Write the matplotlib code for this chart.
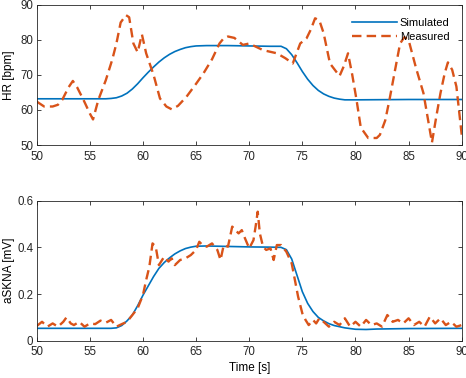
import matplotlib
matplotlib.use("Agg")
import matplotlib.pyplot as plt

plt.rcParams['font.family'] = ['Liberation Sans', 'DejaVu Sans']

# ---- HR data ----
hr_sim_t = [50, 56.5, 57, 57.5, 58, 58.5, 59, 59.5, 60, 60.5, 61, 61.5, 62, 62.5, 63, 63.5,
            64, 64.5, 65, 66, 68, 70, 72, 73, 73.5, 74, 74.5, 75, 75.5, 76, 76.5, 77,
            77.5, 78, 78.5, 79, 80, 85, 90]
hr_sim = [63.2, 63.2, 63.3, 63.5, 64.0, 64.8, 66.0, 67.5, 69.2, 70.8, 72.3, 73.7, 74.9, 75.9,
          76.7, 77.3, 77.8, 78.1, 78.3, 78.4, 78.4, 78.3, 78.2, 78.2, 77.5, 75.8, 73.5, 71.0,
          68.8, 67.0, 65.6, 64.6, 63.9, 63.4, 63.1, 62.9, 62.9, 63.0, 63.0]

hr_meas_t = [50, 50.7, 51.5, 52.0, 52.4, 53.0, 53.4, 53.8, 54.4, 55.0, 55.3, 55.8, 56.5, 57.1,
             57.5, 57.9, 58.4, 58.7, 59.1, 59.5, 59.9, 60.3, 61.0, 61.6, 62.2, 62.7, 63.3,
             64.1, 65.0, 65.7, 66.5, 67.2, 67.6, 68.0, 68.6, 69.4, 70.0, 71.3, 72.6, 73.4,
             74.1, 74.8, 75.4, 75.8, 76.2, 76.6, 77.0, 77.6, 78.5, 78.9, 79.3, 79.7, 80.1,
             80.5, 81.2, 82.0, 82.3, 82.8, 83.2, 83.7, 84.2, 84.6, 85.0, 85.7, 86.4, 86.9,
             87.2, 87.6, 88.0, 88.4, 88.7, 89.1, 89.5, 90.0]
hr_meas = [62.4, 61.0, 61.0, 61.5, 62.9, 66.5, 68.3, 66.5, 62.9, 59.0, 57.3, 62.9, 68.5, 74.3,
           79.0, 85.0, 87.1, 86.5, 79.0, 76.5, 81.6, 76.2, 70.0, 63.3, 61.0, 60.2, 61.2,
           63.8, 67.5, 70.5, 74.5, 79.0, 80.5, 81.0, 80.6, 78.6, 79.0, 77.1, 76.2, 74.8,
           73.3, 79.0, 80.5, 83.0, 86.2, 85.6, 82.0, 73.3, 69.7, 72.5, 76.2, 70.0, 62.9,
           55.0, 52.0, 52.0, 52.9, 57.0, 62.9, 71.0, 79.0, 80.8, 80.0, 72.0, 64.8, 56.0,
           50.7, 58.0, 64.8, 70.5, 73.6, 71.5, 66.7, 52.9]

# ---- aSKNA data ----
sk_sim_t = [50, 57, 57.5, 58, 58.5, 59, 59.5, 60, 60.5, 61, 61.5, 62, 62.5, 63, 63.5, 64,
            64.5, 65, 66, 68, 70, 72, 73, 73.5, 74, 74.5, 75, 75.5, 76, 76.5, 77, 77.5,
            78, 79, 80, 81, 82, 85, 90]
sk_sim = [0.053, 0.053, 0.055, 0.065, 0.085, 0.11, 0.15, 0.195, 0.235, 0.275, 0.31, 0.335,
          0.355, 0.372, 0.385, 0.395, 0.401, 0.405, 0.406, 0.404, 0.402, 0.401, 0.400,
          0.39, 0.35, 0.28, 0.21, 0.16, 0.125, 0.10, 0.085, 0.073, 0.065, 0.055, 0.049,
          0.048, 0.05, 0.052, 0.053]

sk_meas_t = [50, 50.5, 51, 51.5, 52, 52.5, 52.8, 53.2, 53.5, 54, 54.5, 55, 55.5, 56, 56.5,
             57, 57.5, 58, 58.5, 59, 59.5, 60, 60.3, 60.6, 60.9, 61.2, 61.5, 61.8, 62,
             62.4, 62.7, 63, 63.5, 64, 64.5, 65, 65.3, 65.6, 66, 66.5, 67, 67.3, 67.6, 68,
             68.4, 68.7, 69, 69.3, 69.6, 70, 70.4, 70.6, 70.8, 71, 71.3, 71.6, 72, 72.3,
             72.6, 73, 73.5, 74, 74.3, 74.6, 75, 75.3, 75.6, 76, 76.3, 76.6, 77, 77.5, 78,
             78.5, 79, 79.5, 80, 80.5, 81, 81.5, 82, 82.5, 83, 83.5, 84, 84.5, 85, 85.5,
             86, 86.5, 87, 87.5, 88, 88.5, 89, 89.5, 90]
sk_meas = [0.063, 0.081, 0.06, 0.074, 0.06, 0.081, 0.10, 0.074, 0.067, 0.081, 0.06, 0.074,
           0.071, 0.086, 0.077, 0.089, 0.06, 0.071, 0.081, 0.11, 0.139, 0.196, 0.26, 0.317,
           0.417, 0.403, 0.324, 0.346, 0.36, 0.339, 0.353, 0.324, 0.346, 0.353, 0.367,
           0.389, 0.424, 0.41, 0.403, 0.417, 0.389, 0.346, 0.41, 0.403, 0.489, 0.474, 0.46,
           0.474, 0.439, 0.396, 0.431, 0.489, 0.553, 0.46, 0.403, 0.389, 0.396, 0.346, 0.41,
           0.41, 0.381, 0.331, 0.26, 0.189, 0.117, 0.089, 0.067, 0.089, 0.074, 0.096, 0.081,
           0.06, 0.081, 0.067, 0.096, 0.06, 0.081, 0.06, 0.089, 0.067, 0.074, 0.06, 0.11,
           0.081, 0.089, 0.074, 0.096, 0.067, 0.081, 0.06, 0.103, 0.074, 0.096, 0.067,
           0.081, 0.06, 0.067]

xticks = [50, 55, 60, 65, 70, 75, 80, 85, 90]
hr_yticks = [50, 60, 70, 80, 90]
sk_yticks = [0, 0.2, 0.4, 0.6]

BLUE = '#0072BD'
ORANGE = '#D95319'
AXC = '#262626'

fig = plt.figure(figsize=(4.66, 3.78), dpi=100)
ax1 = fig.add_axes([0.0788, 0.6164, 0.912, 0.3704])
ax2 = fig.add_axes([0.0788, 0.0987, 0.912, 0.3703])

def style(ax):
    for s in ax.spines.values():
        s.set_linewidth(0.6)
        s.set_color(AXC)
    ax.tick_params(direction='in', which='both', top=True, right=True, length=3,
                   width=0.6, colors=AXC, labelsize=8.3, labelcolor='#262626')
    ax.tick_params(axis='x', pad=4)
    ax.tick_params(axis='y', pad=2.5)
    ax.set_xlim(50, 90)
    ax.set_xticks(xticks)

ax1.plot(hr_sim_t, hr_sim, color=BLUE, lw=1.2, label='Simulated')
ax1.plot(hr_meas_t, hr_meas, color=ORANGE, lw=1.7, ls=(0, (4, 2.2)), label='Measured')
style(ax1)
ax1.set_ylim(50, 90)
ax1.set_yticks(hr_yticks)
ax1.set_ylabel('HR [bpm]', fontsize=8.5)
ax1.yaxis.set_label_coords(-0.052, 0.5)
leg = ax1.legend(loc='upper right', frameon=False, fontsize=8, handlelength=4.0,
                 handletextpad=0.3, borderaxespad=0.3, labelspacing=0.3,
                 bbox_to_anchor=(0.99, 0.96))

ax2.plot(sk_sim_t, sk_sim, color=BLUE, lw=1.2)
ax2.plot(sk_meas_t, sk_meas, color=ORANGE, lw=1.7, ls=(0, (4, 2.2)))
style(ax2)
ax2.set_ylim(0, 0.6)
ax2.set_yticks(sk_yticks)
ax2.set_yticklabels(['0', '0.2', '0.4', '0.6'])
ax2.set_ylabel('aSKNA [mV]', fontsize=8.5)
ax2.yaxis.set_label_coords(-0.052, 0.5)
ax2.set_xlabel('Time [s]', fontsize=8.5, labelpad=3)

fig.savefig('out.png', dpi=100)
